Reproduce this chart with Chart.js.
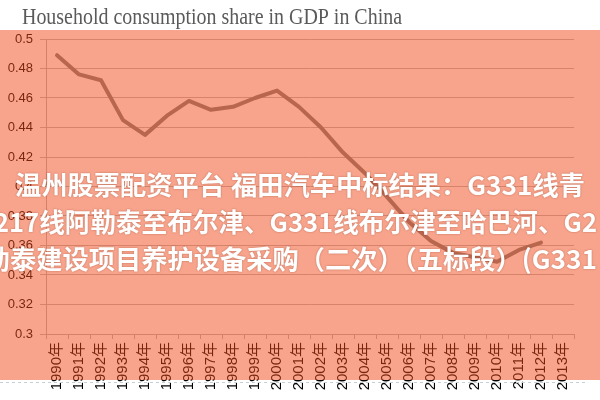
<!DOCTYPE html>
<html>
<head>
<meta charset="utf-8">
<script src="https://cdn.jsdelivr.net/npm/chart.js@4/dist/chart.umd.min.js"></script>
<style>
html, body { margin: 0; padding: 0; background: #fff; }
#wrap { width: 600px; height: 400px; }
</style>
</head>
<body>
<div id="wrap"><canvas id="chart" width="600" height="400"></canvas></div>
<script>
// 数据
const years = ['1990年', '1991年', '1992年', '1993年', '1994年', '1995年', '1996年', '1997年',
    '1998年', '1999年', '2000年', '2001年', '2002年', '2003年', '2004年', '2005年',
    '2006年', '2007年', '2008年', '2009年', '2010年', '2011年', '2012年', '2013年'];
const shares = [0.489, 0.476, 0.472, 0.445, 0.435, 0.448, 0.458, 0.452,
    0.454, 0.460, 0.465, 0.454, 0.440, 0.423, 0.409, 0.393,
    0.376, 0.363, 0.355, 0.352, 0.349, 0.357, 0.362, null];
const yTickValues = [0.3, 0.32, 0.34, 0.36, 0.38, 0.4, 0.42, 0.44, 0.46, 0.48, 0.5];

const chartTitle = 'Household consumption share in GDP in China';
// 覆盖文字: [左侧被裁掉的字, 可见部分, 左x, 右x, 中心y]
const overlayLines = [
    ['', '温州股票配资平台 福田汽车中标结果：G331线青', 15, 585, 185],
    ['2', '17线阿勒泰至布尔津、G331线布尔津至哈巴河、G2', 9, 597, 222],
    ['勒', '泰建设项目养护设备采购（二次）（五标段）(G331', 10, 597, 259]
];

// 画一行文字并压缩到指定宽度
function drawFitted(ctx, prefix, text, x1, x2, y) {
    const wMain = ctx.measureText(text).width;
    const wPre = prefix ? ctx.measureText(prefix).width : 0;
    const s = (x2 - x1) / wMain;
    ctx.save();
    ctx.translate(x1 - wPre * s, y);
    ctx.scale(s, 1);
    ctx.fillText(prefix + text, 0, 0);
    ctx.restore();
}

const decoPlugin = {
    id: 'deco',
    beforeDraw: function(chart) {
        const ctx = chart.ctx;
        ctx.save();
        ctx.fillStyle = '#ffffff';
        ctx.fillRect(0, 0, chart.width, chart.height);
        ctx.restore();
    },
    afterDraw: function(chart) {
        const ctx = chart.ctx;
        ctx.save();
        // 半透明橙色蒙版
        ctx.fillStyle = 'rgba(241, 73, 25, 0.5)';
        ctx.fillRect(0, 30, chart.width, 350);

        // 虚线
        ctx.strokeStyle = '#c9cdd6';
        ctx.lineWidth = 1;
        ctx.setLineDash([3, 3]);
        ctx.beginPath();
        ctx.moveTo(0, 382.5);
        ctx.lineTo(585, 382.5);
        ctx.stroke();
        ctx.setLineDash([]);

        // 标题
        ctx.fillStyle = '#5a5a5a';
        ctx.font = '23px "Liberation Serif", serif';
        ctx.textBaseline = 'alphabetic';
        drawFitted(ctx, '', chartTitle, 22, 402, 24);

        // 白色覆盖文字
        ctx.font = 'bold 26px "Noto Sans CJK SC", sans-serif';
        ctx.textBaseline = 'middle';
        ctx.fillStyle = '#ffffff';
        ctx.shadowColor = 'rgba(110, 40, 20, 0.45)';
        ctx.shadowBlur = 2;
        overlayLines.forEach(function(l) {
            drawFitted(ctx, l[0], l[1], l[2], l[3], l[4]);
        });
        ctx.restore();
    }
};

const ctx = document.getElementById('chart').getContext('2d');
new Chart(ctx, {
    type: 'line',
    data: {
        labels: years,
        datasets: [{
            data: shares,
            borderColor: '#808282',
            borderWidth: 4,
            borderJoinStyle: 'round',
            borderCapStyle: 'round',
            pointRadius: 0,
            tension: 0,
            fill: false
        }]
    },
    options: {
        responsive: false,
        devicePixelRatio: 1,
        animation: false,
        layout: {
            padding: { left: 0, right: 26, top: 39, bottom: 0 }
        },
        plugins: {
            legend: { display: false },
            tooltip: { enabled: false }
        },
        scales: {
            x: {
                offset: true,
                afterFit: function(scale) { scale.height = 66; },
                grid: {
                    offset: true,
                    drawOnChartArea: false,
                    tickLength: 5,
                    color: '#b8b8b8'
                },
                border: { display: true, color: '#b8b8b8' },
                ticks: {
                    autoSkip: false,
                    minRotation: 90,
                    maxRotation: 90,
                    padding: 3,
                    color: '#000000',
                    font: { family: '"Liberation Sans", "Noto Sans CJK SC", sans-serif', size: 15 }
                }
            },
            y: {
                min: 0.3,
                max: 0.5,
                afterFit: function(scale) { scale.width = 46; },
                afterBuildTicks: function(scale) {
                    scale.ticks = yTickValues.map(function(v) { return { value: v }; });
                },
                grid: {
                    color: '#bcbcbc',
                    tickLength: 6,
                    lineWidth: 1
                },
                border: { display: true, color: '#b8b8b8' },
                ticks: {
                    padding: 7,
                    color: '#000000',
                    font: { family: '"Liberation Sans", sans-serif', size: 13 },
                    callback: function(value) {
                        return String(Math.round(value * 100) / 100);
                    }
                }
            }
        }
    },
    plugins: [decoPlugin]
});
</script>
</body>
</html>
